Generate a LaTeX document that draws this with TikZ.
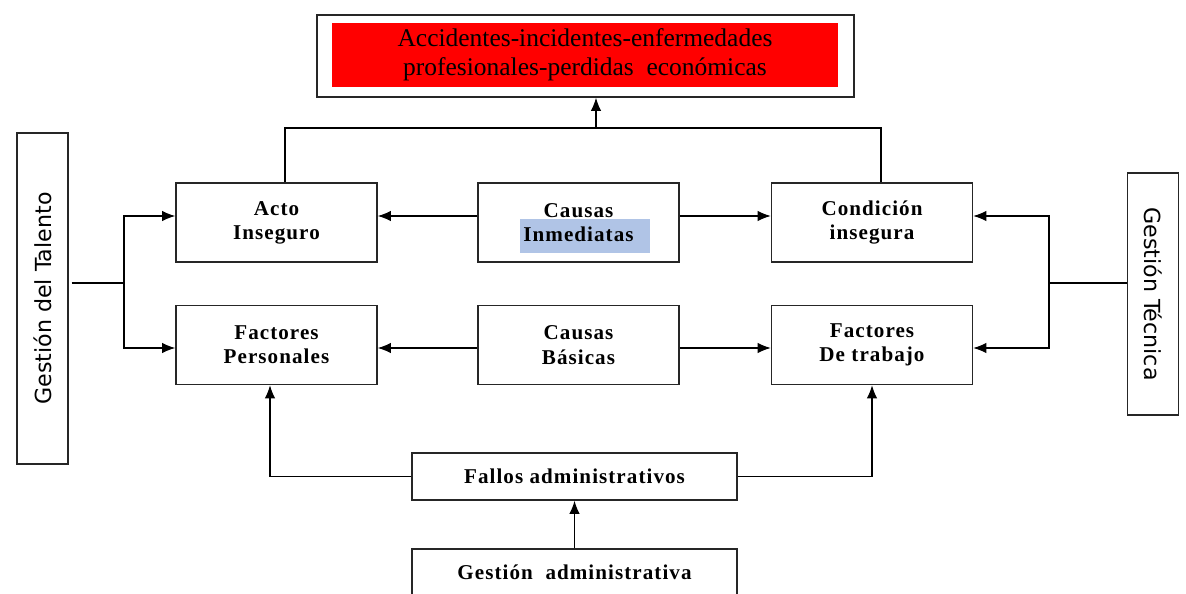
\documentclass[tikz,border=0pt]{standalone}
\usepackage{fontspec}
\setmainfont{Liberation Serif}
\newfontfamily\cajafont[LetterSpace=5]{Liberation Serif}
\newfontfamily\ladofont{DejaVu Sans}
\usetikzlibrary{positioning,calc,arrows.meta}
\definecolor{selazul}{RGB}{176,196,230}
\tikzstyle{every node}=[inner sep=2pt]
\tikzstyle{caja} = [draw=black!85,line width=0.8pt,minimum width=4.02cm,minimum height=1.58cm,align=center,font=\cajafont\bfseries\fontsize{12}{13.8}\selectfont]
\tikzstyle{lado} = [draw=black!85,line width=0.8pt,minimum height=1.02cm,font=\ladofont\fontsize{12.6}{14}\selectfont]
\tikzstyle{arrow} = [line width=0.8pt,-{Latex[length=7.5pt,width=6pt]}]
\tikzstyle{linea} = [line width=0.8pt]

\begin{document}
\begin{tikzpicture}[x=0.02cm,y=-0.02cm]
\useasboundingbox (0,0) rectangle (1186,594);

% effects box
\node[draw=black!85,line width=0.8pt,minimum width=10.74cm,minimum height=1.64cm] (efectos) at (585.5,56) {};
\node[fill=red,minimum width=10.12cm,minimum height=1.28cm,align=center,font=\fontsize{14.5}{16.5}\selectfont] (texto) at (585,55)
	{Accidentes-incidentes-enfermedades\\profesionales-perdidas\ \ económicas};

% selection mark behind Inmediatas
\fill[selazul] (520,219) rectangle (650,253);

% causes
\node[caja] (acto) at (276.5,222.5) {Acto\\Inseguro};
\node[caja] (inmediatas) at (578.5,222.5) {Causas\\Inmediatas};
\node[caja] (condicion) at (872,222.5) {Condición\\insegura};
\node[caja] (personales) at (276.5,345) {Factores\\Personales};
\node[caja] (basicas) at (578.5,345) {Causas\\Básicas};
\node[caja] (trabajo) at (872,345) {Factores\\De trabajo};

% management
\node[caja,minimum width=6.5cm,minimum height=0.94cm] (fallos) at (574.5,476.5) {Fallos administrativos};
\node[caja,minimum width=6.5cm,minimum height=0.94cm] (gestadm) at (574.5,572.5) {Gestión\ \ administrativa};
\node[lado,rotate=90,minimum width=6.62cm] (talento) at (42.5,298.5) {Gestión del Talento};
\node[lado,rotate=-90,minimum width=4.84cm] (tecnica) at (1153,294) {Gestión Técnica};

% connectors
\coordinate (t1) at (124,283);
\coordinate (t2) at (1049,283);
\coordinate (junta) at (596,128);
\draw[arrow] ([xshift=0.06cm]talento.south |- t1) -- (t1) |- ([yshift=0.13cm]acto.west);
\draw[arrow] (t1) |- ([yshift=-0.06cm]personales.west);
\draw[arrow] (tecnica.south |- t2) -- (t2) |- ([yshift=0.13cm]condicion.east);
\draw[arrow] (t2) |- ([yshift=-0.06cm]trabajo.east);
\draw[arrow] ([yshift=0.13cm]inmediatas.west) -- ([yshift=0.13cm]acto.east);
\draw[arrow] ([yshift=0.13cm]inmediatas.east) -- ([yshift=0.13cm]condicion.west);
\draw[arrow] ([yshift=-0.06cm]basicas.west) -- ([yshift=-0.06cm]personales.east);
\draw[arrow] ([yshift=-0.06cm]basicas.east) -- ([yshift=-0.06cm]trabajo.west);
\draw[linea] ([xshift=0.17cm]acto.north) |- (junta) -| ([xshift=0.18cm]condicion.north);
\draw[arrow] (junta) -- (junta |- efectos.south);
\draw[arrow] (fallos.west) -| ([xshift=-0.13cm]personales.south);
\draw[arrow] (fallos.east) -| (trabajo.south);
\draw[arrow] (gestadm.north) -- (fallos.south);

\end{tikzpicture}
\end{document}
